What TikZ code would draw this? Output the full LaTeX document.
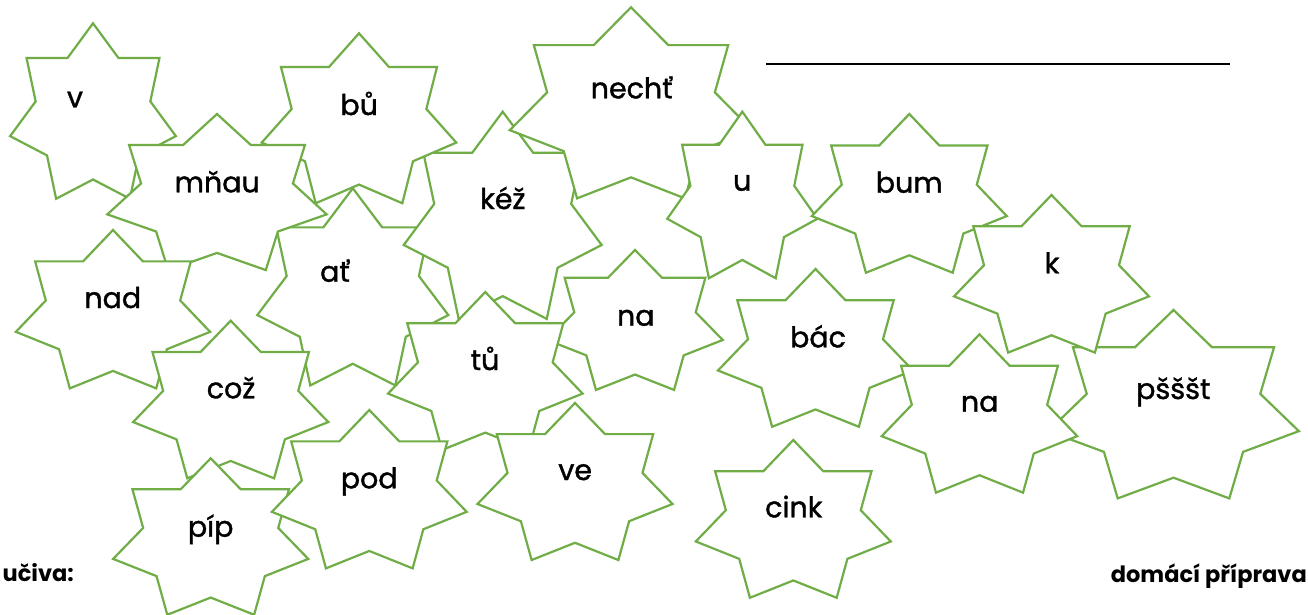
\documentclass[tikz,border=0pt]{standalone}
\usepackage{fontspec}
\setmainfont{Poppins}
\newfontfamily\wordfont{Poppins}[BoldFont=Poppins, BoldFeatures={FakeBold=1.3}]
\definecolor{stargreen}{RGB}{112,173,71}
\tikzset{
  starline/.style={draw=stargreen, line width=2.2pt, fill=white, line join=miter},
  word/.style={anchor=base, inner sep=0pt, font=\wordfont\bfseries\fontsize{28.5}{33}\selectfont},
  footer/.style={anchor=base, inner sep=0pt, font=\fontsize{22.5}{26}\selectfont\bfseries},
}
% #1 name, #2 cx, #3 cy, #4 rx, #5 ry, #6 text x, #7 text baseline, #8 text
\newcommand\wordstar[8]{%
  \draw[starline] ({#2},{#3-#5}) \foreach \k in {1,...,13}{
     -- ({#2+#4*(1-0.308*mod(\k,2))*cos(-90+\k*360/14)},{#3+#5*(1-0.308*mod(\k,2))*sin(-90+\k*360/14)})
  } -- cycle;
  \node[word] (#1) at (#6,#7) {#8};
}
\begin{document}
\begin{tikzpicture}[x=1pt,y=-1pt]
\useasboundingbox[fill=white] (0,0) rectangle (1308,614);
\wordstar{sv}{93}{115.6}{85}{92.3}{75}{107.3}{v}
\wordstar{sat}{352.8}{292}{98}{103.7}{335}{281.7}{ať}
\wordstar{skez}{502.7}{220.7}{101.5}{109}{502.8}{209}{kéž}
\wordstar{sbu}{359}{122.7}{99.8}{89.4}{359.2}{115}{bů}
\wordstar{smnau}{217}{196.1}{112.5}{82.1}{217.2}{192.3}{mňau}
\wordstar{snad}{113}{313.3}{99.6}{83.3}{112.8}{308}{nad}
\wordstar{snecht}{631}{107.8}{124.3}{100.5}{631.7}{98.3}{nechť}
\wordstar{su}{742.3}{199.3}{77}{87.6}{742.2}{190.7}{u}
\wordstar{sbum}{909.3}{197.5}{100}{83.5}{909.2}{192.7}{bum}
\wordstar{snaA}{635}{323.6}{90}{73.6}{635.8}{325.7}{na}
\wordstar{scoz}{230.7}{403.6}{100.1}{82.9}{231}{398.3}{což}
\wordstar{spip}{210.7}{540.6}{100.1}{82.3}{210.7}{536.7}{píp}
\wordstar{stu}{485.3}{375.1}{99.8}{83.1}{485}{370}{tů}
\wordstar{spod}{369.3}{493.3}{99.9}{83.3}{369.2}{488.3}{pod}
\wordstar{sve}{575}{485.6}{100}{82.6}{575.2}{480}{ve}
\wordstar{scink}{793.3}{523}{100}{83}{793.8}{517.3}{cink}
\wordstar{sbac}{815.5}{352}{100}{83}{818}{347.3}{bác}
\wordstar{spst}{1173.5}{409.1}{128.6}{99.1}{1173.3}{399}{pšššt}
\wordstar{sk}{1051.5}{277.9}{100}{82.9}{1052}{273.3}{k}
\wordstar{snaB}{979.5}{417.6}{100.3}{83.3}{979.7}{411.7}{na}
\coordinate (lineA) at (766,64);
\coordinate (lineB) at (1230,64);
\draw[line width=1.2pt] (lineA) -- (lineB);
\node[footer, anchor=base east] (uciva) at (74,581.7) {učiva:};
\node[footer, anchor=base east] (domaci) at (1307,582.7) {domácí příprava};
\end{tikzpicture}
\end{document}
